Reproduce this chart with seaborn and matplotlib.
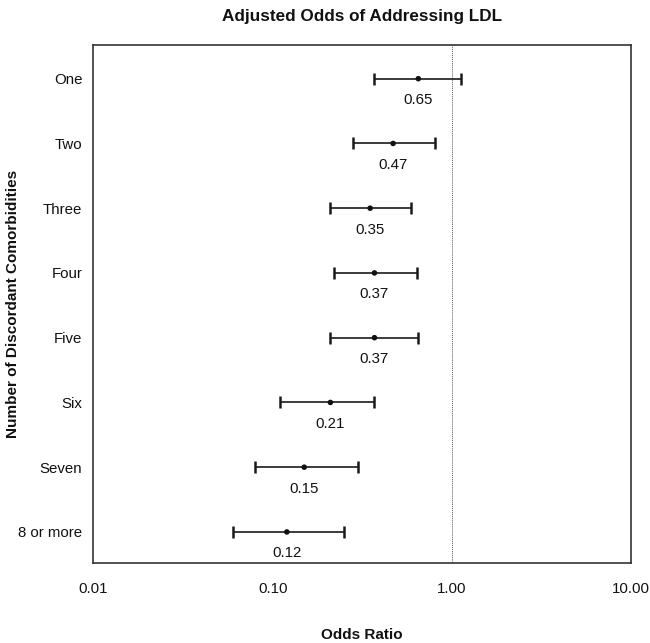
import numpy as np
import pandas as pd
import seaborn as sns
import matplotlib
matplotlib.use('Agg')
import matplotlib.pyplot as plt

# ========================= данные ========================= #
groups = ['One', 'Two', 'Three', 'Four', 'Five', 'Six', 'Seven', '8 or more']
odds = [0.65, 0.47, 0.35, 0.37, 0.37, 0.21, 0.15, 0.12]
ci_low = [0.37, 0.28, 0.21, 0.22, 0.21, 0.11, 0.08, 0.06]
ci_high = [1.12, 0.81, 0.59, 0.64, 0.65, 0.37, 0.30, 0.25]
x_ticks = [0.01, 0.1, 1, 10]
x_tick_labels = ['0.01', '0.10', '1.00', '10.00']

df = pd.DataFrame({'group': groups, 'odds': odds, 'low': ci_low, 'high': ci_high})
df['pos'] = np.arange(len(df))

# ================================ график ==================================== #
sns.set_style('white')
plt.rcParams['font.family'] = ['Liberation Sans', 'DejaVu Sans']

fig = plt.figure(figsize=(6.5, 6.43), dpi=100)
ax = fig.add_axes([0.1438, 0.1244, 0.827, 0.8056])

ax.axvline(1, color='0.35', lw=0.7, ls=(0, (1, 1)), zorder=1)

err = [df['odds'] - df['low'], df['high'] - df['odds']]
ax.errorbar(df['odds'], df['pos'], xerr=err, fmt='none', ecolor='#1a1a1a',
            elinewidth=1.2, capsize=4, capthick=1.8, zorder=2)
sns.scatterplot(data=df, x='odds', y='pos', color='#111111', s=16,
                edgecolor='none', ax=ax, zorder=3)

for _, row in df.iterrows():
    ax.text(row['odds'], row['pos'] + 0.33, f"{row['odds']:.2f}",
            ha='center', va='center', fontsize=10.8, color='#111111')

ax.set_xscale('log')
ax.set_xlim(0.01, 10)
ax.set_xticks(x_ticks)
ax.set_xticklabels(x_tick_labels)
ax.minorticks_off()
ax.set_yticks(df['pos'])
ax.set_yticklabels(df['group'])
ax.set_ylim(len(df) - 0.52, -0.52)

ax.tick_params(axis='both', length=0, labelsize=10.8, labelcolor='#111111')
ax.tick_params(axis='x', pad=13.5)
ax.tick_params(axis='y', pad=8)

for s in ax.spines.values():
    s.set_color('#333333')
    s.set_linewidth(1.2)

ax.set_title('Adjusted Odds of Addressing LDL', fontsize=12.3,
             fontweight='bold', pad=17, color='#111111')
ax.set_xlabel('Odds Ratio', fontsize=11, fontweight='bold', labelpad=23,
              color='#111111')
ax.set_ylabel('Number of Discordant Comorbidities', fontsize=11,
              fontweight='bold', color='#111111')
ax.yaxis.set_label_coords(-0.136, 0.5)

fig.savefig('out.png', dpi=100)
